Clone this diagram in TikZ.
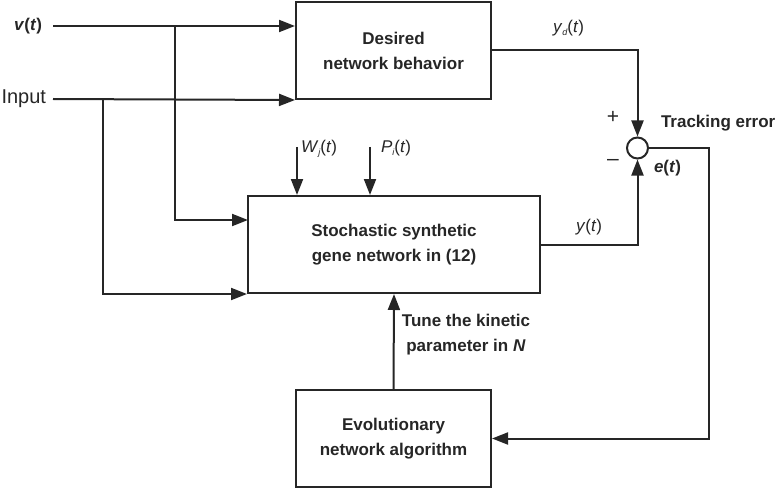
\documentclass[tikz,border=0pt]{standalone}
\usepackage{fontspec}
\setmainfont{Liberation Sans}
\usetikzlibrary{arrows.meta}
\definecolor{ink}{HTML}{262626}
\tikzset{
  block/.style={draw, line width=2pt, minimum width=195pt, minimum height=97pt,
    align=center, font=\fontsize{17}{25}\selectfont\bfseries},
  arr/.style={-{Triangle[length=16pt,width=12pt]}},
  lab/.style={font=\fontsize{17}{20}\selectfont, inner sep=0pt}
}
\newcommand{\subidx}[1]{\raisebox{-3pt}{\fontsize{9}{10}\selectfont\itshape #1}}
\begin{document}
\begin{tikzpicture}[x=1pt, y=-1pt, line width=2pt, color=ink]
  \useasboundingbox (0,0) rectangle (778,489);
  \node[block] (desired) at (393.5,50.5) {Desired\\network behavior};
  \node[block, minimum width=292pt] (gene) at (394,244.5) {Stochastic synthetic\\gene network in (12)};
  \node[block] (evo) at (393.5,438.5) {Evolutionary\\network algorithm};
  \node[draw, circle, minimum size=21pt, inner sep=0pt] (sum) at (637.5,148) {};
  \node[lab, anchor=east, font=\fontsize{17}{20}\selectfont\bfseries] (vlab) at (43,26) {\textit{v}(\textit{t})};
  \node[lab, anchor=east, font=\fontsize{20}{24}\selectfont] (inlab) at (47,99) {Input};
  \coordinate (vin) at (53,26);
  \coordinate (uin) at (53,99);
  \coordinate (b1) at (175,26);
  \coordinate (b2) at (103,99);
  \coordinate (s1) at (248,220);
  \coordinate (w) at (297,147);
  \coordinate (p) at (370,147);
  \coordinate (e1) at (709,148);
  \node[lab, anchor=base west] (wlab) at (300,153) {\textit{W}\subidx{j}(\textit{t})};
  \node[lab, anchor=base west] (plab) at (380,153) {\textit{P}\subidx{i}(\textit{t})};
  \node[lab, anchor=base west] (ydlab) at (552,33) {\textit{y}\subidx{d}(\textit{t})};
  \node[lab, anchor=base west] (ylab) at (575,231.5) {\textit{y}(\textit{t})};
  \node[lab, font=\fontsize{21}{24}\selectfont] (plus) at (613,117) {+};
  \node[lab, font=\fontsize{21}{24}\selectfont] (minus) at (613,162) {\textendash};
  \node[lab, anchor=west, font=\fontsize{17}{20}\selectfont\bfseries] (track) at (660,123) {Tracking error};
  \node[lab, anchor=west, font=\fontsize{17}{20}\selectfont\bfseries] (elab) at (653,168) {\textit{e}(\textit{t})};
  \node[lab, align=center, font=\fontsize{17}{25}\selectfont\bfseries] (tune) at (466,335) {Tune the kinetic\\parameter in \textit{N}};
  \begin{scope}[arr]
    \draw (vin) -- (vin -| desired.west);
    \draw (uin) -- (desired.south west);
    \draw (b1) |- (s1);
    \draw (b2) |- (gene.south west);
    \draw (w) -- (w |- gene.north);
    \draw (p) -- (p |- gene.north);
    \draw (desired.east) -| (sum.north);
    \draw (gene.east) -| (sum.south);
    \draw (sum.east) -- (e1) |- (evo.east);
    \draw (evo.north) -- (gene.south);
  \end{scope}
\end{tikzpicture}
\end{document}
